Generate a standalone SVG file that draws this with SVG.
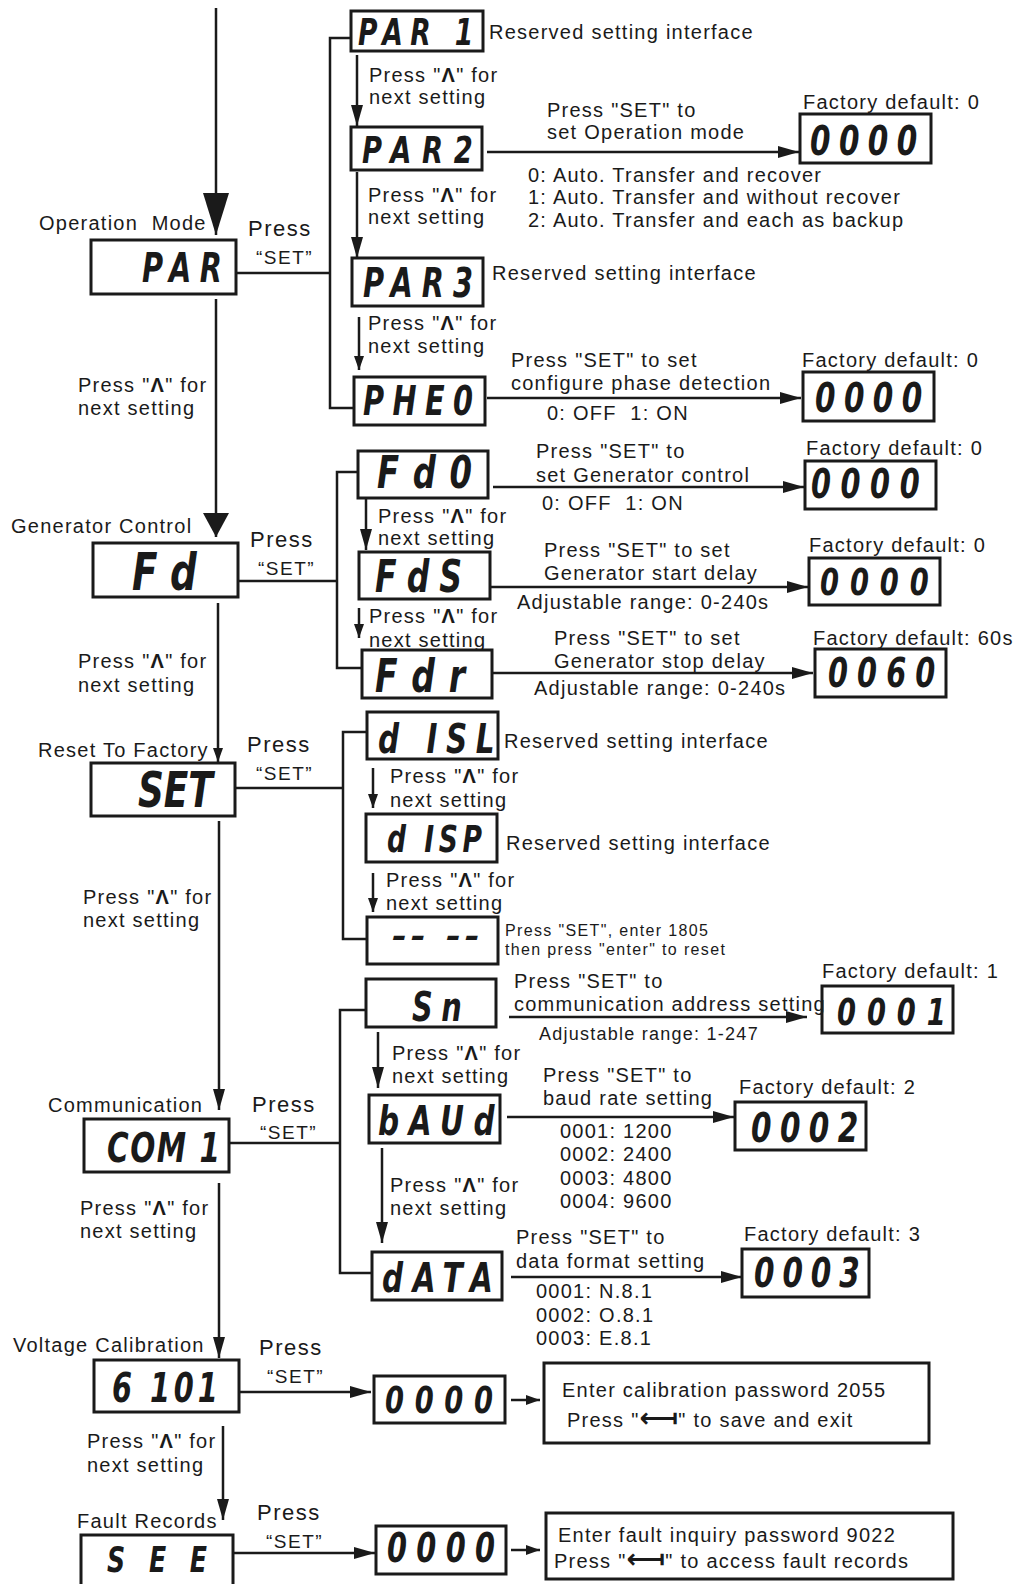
<svg xmlns="http://www.w3.org/2000/svg" width="1021" height="1584" viewBox="0 0 1021 1584">
<style>
.t{font-family:"Liberation Sans",Arial,sans-serif;font-size:20px;letter-spacing:1.25px;fill:#1a1a1a}
.p{font-size:22px;letter-spacing:1.5px}
.q{font-size:19px;letter-spacing:1.5px}
.s{font-size:16px;letter-spacing:1.35px}
.m{font-size:18px}
.b{font-weight:bold}
.ent{font-family:"DejaVu Sans",sans-serif;font-size:27px;font-weight:bold;letter-spacing:0}
.seg{font-family:"DejaVu Sans",sans-serif;font-weight:bold;font-style:italic;fill:#1a1a1a}
.box{fill:#fff;stroke:#1a1a1a;stroke-width:3}
.ln{fill:none;stroke:#1a1a1a;stroke-width:2.5}
.ah{fill:#1a1a1a}
</style>
<defs>
<marker id="mA" viewBox="0 0 42 26" refX="42" refY="13" markerWidth="42" markerHeight="26" orient="auto" markerUnits="userSpaceOnUse"><path class="ah" d="M0,0 L42,13 L0,26 z"/></marker>
<marker id="mB" viewBox="0 0 24 26" refX="24" refY="13" markerWidth="24" markerHeight="26" orient="auto" markerUnits="userSpaceOnUse"><path class="ah" d="M0,0 L24,13 L0,26 z"/></marker>
<marker id="mC" viewBox="0 0 21 12" refX="21" refY="6" markerWidth="21" markerHeight="12" orient="auto" markerUnits="userSpaceOnUse"><path class="ah" d="M0,0 L21,6 L0,12 z"/></marker>
<marker id="mD" viewBox="0 0 14 10" refX="14" refY="5" markerWidth="14" markerHeight="10" orient="auto" markerUnits="userSpaceOnUse"><path class="ah" d="M0,0 L14,5 L0,10 z"/></marker>
</defs>
<rect width="1021" height="1584" fill="#fff"/>

<g id="connectors">
<path class="ln" d="M216,8 V235" marker-end="url(#mA)"/>
<path class="ln" d="M216,299 V537" marker-end="url(#mB)"/>
<path class="ln" d="M218,603 V762" marker-end="url(#mD)"/>
<path class="ln" d="M219,821 V1110" marker-end="url(#mC)"/>
<path class="ln" d="M219,1183 V1358" marker-end="url(#mC)"/>
<path class="ln" d="M223,1426 V1520" marker-end="url(#mC)"/>
<path class="ln" d="M351,38 H330 V408 H354 M236,273 H330"/>
<path class="ln" d="M358,472 H337 V668 H362 M238,581 H337"/>
<path class="ln" d="M367,732 H343 V939 H367 M235,788 H343"/>
<path class="ln" d="M366,1010 H340 V1273 H372 M229,1143 H340"/>
<path class="ln" d="M357,55 V126" marker-end="url(#mC)"/>
<path class="ln" d="M357,172 V258" marker-end="url(#mC)"/>
<path class="ln" d="M359,317 V370" marker-end="url(#mD)"/>
<path class="ln" d="M366,498 V550" marker-end="url(#mC)"/>
<path class="ln" d="M359,608 V638" marker-end="url(#mD)"/>
<path class="ln" d="M373,768 V808" marker-end="url(#mD)"/>
<path class="ln" d="M373,873 V912" marker-end="url(#mD)"/>
<path class="ln" d="M378,1032 V1088" marker-end="url(#mC)"/>
<path class="ln" d="M382,1148 V1243" marker-end="url(#mC)"/>
<path class="ln" d="M487,152 H799" marker-end="url(#mC)"/>
<path class="ln" d="M487,398 H801" marker-end="url(#mC)"/>
<path class="ln" d="M493,487 H804" marker-end="url(#mC)"/>
<path class="ln" d="M490,587 H808" marker-end="url(#mC)"/>
<path class="ln" d="M492,673 H813" marker-end="url(#mC)"/>
<path class="ln" d="M509,1017 H807" marker-end="url(#mC)"/>
<path class="ln" d="M507,1117 H734" marker-end="url(#mC)"/>
<path class="ln" d="M511,1277 H742" marker-end="url(#mC)"/>
<path class="ln" d="M239,1392 H371" marker-end="url(#mC)"/>
<path class="ln" d="M511,1400 H540" marker-end="url(#mD)"/>
<path class="ln" d="M233,1553 H375" marker-end="url(#mC)"/>
<path class="ln" d="M511,1550 H540" marker-end="url(#mD)"/>
</g>

<g id="n-par"><rect class="box" x="91" y="240" width="145" height="54"/><text class="seg" transform="translate(142,282) scale(0.72,1)" font-size="40" textLength="111">PAR</text></g>
<g id="n-par1"><rect class="box" x="351" y="11" width="132" height="40"/><text class="seg" transform="translate(358,45) scale(0.72,1)" font-size="37" textLength="160">PAR 1</text></g>
<g id="n-par2"><rect class="box" x="351" y="127" width="131" height="43"/><text class="seg" transform="translate(362,163) scale(0.72,1)" font-size="38" textLength="154">PAR2</text></g>
<g id="n-par3"><rect class="box" x="352" y="258" width="131" height="48"/><text class="seg" transform="translate(363,297) scale(0.72,1)" font-size="40" textLength="153">PAR3</text></g>
<g id="n-pheo"><rect class="box" x="354" y="377" width="131" height="48"/><text class="seg" transform="translate(363,415) scale(0.72,1)" font-size="40" textLength="153">PHE0</text></g>
<g id="n-fd"><rect class="box" x="93" y="543" width="145" height="54"/><text class="seg" transform="translate(132,590) scale(0.72,1)" font-size="52" textLength="90">F d</text></g>
<g id="n-fd0"><rect class="box" x="358" y="451" width="130" height="47"/><text class="seg" transform="translate(377,488) scale(0.72,1)" font-size="45" textLength="132">F d 0</text></g>
<g id="n-fds"><rect class="box" x="359" y="552" width="131" height="47"/><text class="seg" transform="translate(375,592) scale(0.72,1)" font-size="44" textLength="121">F d S</text></g>
<g id="n-fdr"><rect class="box" x="362" y="650" width="130" height="48"/><text class="seg" transform="translate(375,692) scale(0.72,1)" font-size="46" textLength="125">F d r</text></g>
<g id="n-set"><rect class="box" x="91" y="763" width="144" height="53"/><text class="seg" transform="translate(138,807) scale(0.72,1)" font-size="50" textLength="104">SET</text></g>
<g id="n-disl"><rect class="box" x="367" y="712" width="131" height="47"/><text class="seg" transform="translate(378,753) scale(0.72,1)" font-size="41" textLength="162">d ISL</text></g>
<g id="n-disp"><rect class="box" x="366" y="814" width="131" height="48"/><text class="seg" transform="translate(387,852) scale(0.72,1)" font-size="37" textLength="132">d ISP</text></g>
<g id="n-reset"><rect class="box" x="367" y="917" width="131" height="47"/><text class="seg" transform="translate(392,947) scale(1.2,1)" font-size="30" textLength="73">-- --</text></g>
<g id="n-sn"><rect class="box" x="366" y="979" width="130" height="48"/><text class="seg" transform="translate(412,1021) scale(0.72,1)" font-size="40" textLength="69">Sn</text></g>
<g id="n-baud"><rect class="box" x="369" y="1095" width="131" height="48"/><text class="seg" transform="translate(378,1135) scale(0.72,1)" font-size="41" textLength="162">bAUd</text></g>
<g id="n-com1"><rect class="box" x="84" y="1119" width="145" height="53"/><text class="seg" transform="translate(107,1162) scale(0.72,1)" font-size="41" textLength="157">COM 1</text></g>
<g id="n-data"><rect class="box" x="372" y="1252" width="130" height="48"/><text class="seg" transform="translate(382,1292) scale(0.72,1)" font-size="41" textLength="154">dATA</text></g>
<g id="n-6101"><rect class="box" x="94" y="1360" width="145" height="52"/><text class="seg" transform="translate(112,1402) scale(0.72,1)" font-size="40" textLength="147">6 101</text></g>
<g id="n-v0000"><rect class="box" x="374" y="1376" width="131" height="47"/><text class="seg" transform="translate(385,1413) scale(0.72,1)" font-size="38" textLength="150">0000</text></g>
<g id="n-see"><rect class="box" x="81" y="1535" width="152" height="60"/><text class="seg" transform="translate(107,1572) scale(0.72,1)" font-size="35" textLength="139">S E E</text></g>
<g id="n-f0000"><rect class="box" x="376" y="1526" width="130" height="48"/><text class="seg" transform="translate(387,1562) scale(0.72,1)" font-size="40" textLength="150">0000</text></g>
<g id="n-op0000"><rect class="box" x="800" y="114" width="131" height="49"/><text class="seg" transform="translate(810,155) scale(0.72,1)" font-size="41" textLength="149">0000</text></g>
<g id="n-ph0000"><rect class="box" x="803" y="372" width="131" height="49"/><text class="seg" transform="translate(815,412) scale(0.72,1)" font-size="41" textLength="149">0000</text></g>
<g id="n-g0000"><rect class="box" x="805" y="461" width="131" height="48"/><text class="seg" transform="translate(811,498) scale(0.72,1)" font-size="40" textLength="151">0000</text></g>
<g id="n-s0000"><rect class="box" x="809" y="558" width="131" height="47"/><text class="seg" transform="translate(820,595) scale(0.72,1)" font-size="38" textLength="151">0000</text></g>
<g id="n-0060"><rect class="box" x="815" y="649" width="131" height="48"/><text class="seg" transform="translate(828,687) scale(0.72,1)" font-size="40" textLength="149">0060</text></g>
<g id="n-0001"><rect class="box" x="822" y="986" width="131" height="47"/><text class="seg" transform="translate(837,1025) scale(0.72,1)" font-size="38" textLength="151">0001</text></g>
<g id="n-0002"><rect class="box" x="735" y="1102" width="131" height="48"/><text class="seg" transform="translate(751,1142) scale(0.72,1)" font-size="41" textLength="149">0002</text></g>
<g id="n-0003"><rect class="box" x="742" y="1249" width="127" height="48"/><text class="seg" transform="translate(754,1287) scale(0.72,1)" font-size="41" textLength="147">0003</text></g>
<g id="n-calib"><rect class="box" x="544" y="1363" width="385" height="80"/><text class="t" x="562" y="1397">Enter calibration password 2055</text><text class="t" x="567" y="1427">Press "<tspan class="ent">⟻</tspan>" to save and exit</text></g>
<g id="n-fault"><rect class="box" x="546" y="1513" width="407" height="66"/><text class="t" x="558" y="1542">Enter fault inquiry password 9022</text><text class="t" x="554" y="1568">Press "<tspan class="ent">⟻</tspan>" to access fault records</text></g>

<g id="labels">
<text class="t" x="489" y="39">Reserved setting interface</text>
<text class="t" x="369" y="82">Press "<tspan class="b">Λ</tspan>" for</text><text class="t" x="369" y="104">next setting</text>
<text class="t" x="547" y="117">Press "SET" to</text><text class="t" x="547" y="139">set Operation mode</text>
<text class="t" x="803" y="109">Factory default: 0</text>
<text class="t" x="528" y="182">0: Auto. Transfer and recover</text>
<text class="t" x="528" y="204">1: Auto. Transfer and without recover</text>
<text class="t" x="528" y="227">2: Auto. Transfer and each as backup</text>
<text class="t" x="39" y="230">Operation&#160; Mode</text>
<text class="t p" x="248" y="236">Press</text><text class="t q" x="256" y="264">“SET”</text>
<text class="t" x="368" y="202">Press "<tspan class="b">Λ</tspan>" for</text><text class="t" x="368" y="224">next setting</text>
<text class="t" x="492" y="280">Reserved setting interface</text>
<text class="t" x="368" y="330">Press "<tspan class="b">Λ</tspan>" for</text><text class="t" x="368" y="353">next setting</text>
<text class="t" x="511" y="367">Press "SET" to set</text><text class="t" x="511" y="390">configure phase detection</text>
<text class="t" x="802" y="367">Factory default: 0</text>
<text class="t" x="547" y="420">0: OFF&#160; 1: ON</text>
<text class="t" x="78" y="392">Press "<tspan class="b">Λ</tspan>" for</text><text class="t" x="78" y="415">next setting</text>
<text class="t" x="536" y="458">Press "SET" to</text><text class="t" x="536" y="482">set Generator control</text>
<text class="t" x="806" y="455">Factory default: 0</text>
<text class="t" x="542" y="510">0: OFF&#160; 1: ON</text>
<text class="t" x="11" y="533">Generator Control</text>
<text class="t p" x="250" y="547">Press</text><text class="t q" x="258" y="575">“SET”</text>
<text class="t" x="378" y="523">Press "<tspan class="b">Λ</tspan>" for</text><text class="t" x="378" y="545">next setting</text>
<text class="t" x="544" y="557">Press "SET" to set</text><text class="t" x="544" y="580">Generator start delay</text>
<text class="t" x="809" y="552">Factory default: 0</text>
<text class="t" x="517" y="609">Adjustable range: 0-240s</text>
<text class="t" x="369" y="623">Press "<tspan class="b">Λ</tspan>" for</text><text class="t" x="369" y="647">next setting</text>
<text class="t" x="554" y="645">Press "SET" to set</text><text class="t" x="554" y="668">Generator stop delay</text>
<text class="t" x="813" y="645">Factory default: 60s</text>
<text class="t" x="534" y="695">Adjustable range: 0-240s</text>
<text class="t" x="78" y="668">Press "<tspan class="b">Λ</tspan>" for</text><text class="t" x="78" y="692">next setting</text>
<text class="t" x="38" y="757">Reset To Factory</text>
<text class="t p" x="247" y="752">Press</text><text class="t q" x="256" y="780">“SET”</text>
<text class="t" x="504" y="748">Reserved setting interface</text>
<text class="t" x="390" y="783">Press "<tspan class="b">Λ</tspan>" for</text><text class="t" x="390" y="807">next setting</text>
<text class="t" x="506" y="850">Reserved setting interface</text>
<text class="t" x="386" y="887">Press "<tspan class="b">Λ</tspan>" for</text><text class="t" x="386" y="910">next setting</text>
<text class="t s" x="505" y="936">Press "SET", enter 1805</text><text class="t s" x="505" y="955">then press "enter" to reset</text>
<text class="t" x="83" y="904">Press "<tspan class="b">Λ</tspan>" for</text><text class="t" x="83" y="927">next setting</text>
<text class="t" x="514" y="988">Press "SET" to</text><text class="t" x="514" y="1011">communication address setting</text>
<text class="t" x="822" y="978">Factory default: 1</text>
<text class="t m" x="539" y="1040">Adjustable range: 1-247</text>
<text class="t" x="392" y="1060">Press "<tspan class="b">Λ</tspan>" for</text><text class="t" x="392" y="1083">next setting</text>
<text class="t" x="543" y="1082">Press "SET" to</text><text class="t" x="543" y="1105">baud rate setting</text>
<text class="t" x="739" y="1094">Factory default: 2</text>
<text class="t" x="560" y="1138">0001: 1200</text><text class="t" x="560" y="1161">0002: 2400</text><text class="t" x="560" y="1185">0003: 4800</text><text class="t" x="560" y="1208">0004: 9600</text>
<text class="t" x="48" y="1112">Communication</text>
<text class="t p" x="252" y="1112">Press</text><text class="t q" x="260" y="1139">“SET”</text>
<text class="t" x="390" y="1192">Press "<tspan class="b">Λ</tspan>" for</text><text class="t" x="390" y="1215">next setting</text>
<text class="t" x="80" y="1215">Press "<tspan class="b">Λ</tspan>" for</text><text class="t" x="80" y="1238">next setting</text>
<text class="t" x="516" y="1244">Press "SET" to</text><text class="t" x="516" y="1268">data format setting</text>
<text class="t" x="744" y="1241">Factory default: 3</text>
<text class="t" x="536" y="1298">0001: N.8.1</text><text class="t" x="536" y="1322">0002: O.8.1</text><text class="t" x="536" y="1345">0003: E.8.1</text>
<text class="t" x="13" y="1352">Voltage Calibration</text>
<text class="t p" x="259" y="1355">Press</text><text class="t q" x="267" y="1383">“SET”</text>
<text class="t" x="87" y="1448">Press "<tspan class="b">Λ</tspan>" for</text><text class="t" x="87" y="1472">next setting</text>
<text class="t" x="77" y="1528">Fault Records</text>
<text class="t p" x="257" y="1520">Press</text><text class="t q" x="266" y="1548">“SET”</text>
</g>
</svg>
